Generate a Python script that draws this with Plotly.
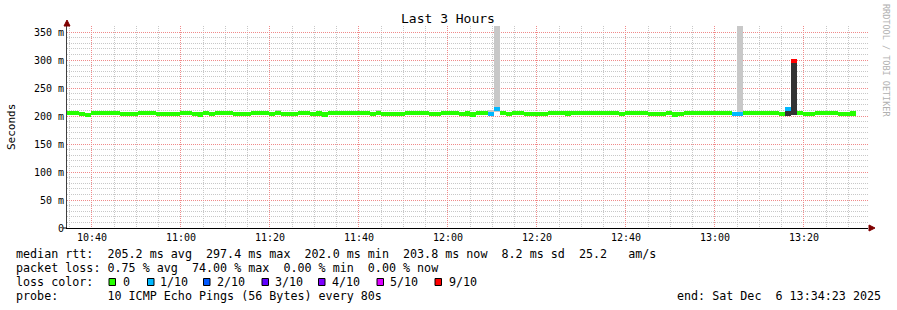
import plotly.graph_objects as go
from datetime import datetime, timedelta

# ---------------- data ----------------
end_time = datetime(2025, 12, 6, 13, 34, 23)
start_time = end_time - timedelta(hours=3)
step_seconds = 80

# median rtt per 80 s step (ms); None = no data yet
median_ms = [
    205.8, 205.7, 203.0, 202.4, 205.9, 205.8, 205.7, 205.9, 205.8,
    203.1, 202.8, 202.9, 205.7, 205.9, 205.8, 203.0, 202.8, 204.4,
    204.3, 205.7, 205.9, 202.9, 202.7, 205.8, 203.0, 205.7, 205.9,
    205.8, 203.1, 202.8, 204.4, 205.8, 205.9, 205.7, 202.9, 206.0,
    203.0, 202.9, 202.8, 205.8, 205.7, 204.3, 204.5, 202.7, 205.7,
    205.9, 205.8, 206.0, 205.7, 205.8, 205.9, 202.9, 205.9, 204.4,
    203.0, 204.3, 202.8, 205.7, 205.9, 205.8, 205.7, 204.4, 202.8,
    205.8, 205.9, 205.7, 204.3, 204.5, 202.7, 205.8, 205.7, 203.1,
    212.4, 205.8, 202.9, 205.9, 205.7, 204.4, 202.8, 204.3, 202.9,
    205.8, 205.9, 205.7, 204.5, 205.8, 205.7, 205.9, 205.8, 205.7,
    205.9, 205.8, 205.7, 202.8, 205.8, 205.9, 205.7, 205.8, 203.0,
    202.9, 202.8, 205.7, 202.7, 204.4, 205.8, 205.7, 205.9, 205.8,
    205.7, 205.9, 205.8, 205.7, 204.3, 204.4, 205.8, 205.9, 205.7,
    205.8, 205.9, 205.7, 202.8, 213.3, 297.4, 205.8, 202.9, 204.4,
    205.7, 205.9, 205.8, 205.7, 204.3, 202.8, 204.5, None, None,
]

# steps with packet loss (tenths of pings lost)
loss_steps = [71, 72, 112, 113, 121, 122]
loss_tenths = [1, 1, 1, 1, 1, 9]

# visible smoke (ping spread) per step
smoke_steps = [35, 41, 52, 71, 72, 113, 121, 122]
smoke_lo = [205.0, 203.0, 205.0, 203.0, 208.0, 206.0, 199.5, 201.0]
smoke_hi = [211.5, 208.0, 211.0, 210.0, 400.0, 400.0, 210.0, 295.5]
smoke_dark = [False, False, False, False, False, False, True, True]

loss_levels = ["0", "1/10", "2/10", "3/10", "4/10", "5/10", "9/10"]
loss_colors = ["#26ff00", "#00b8ff", "#0059ff", "#5e00ff", "#7e00ff", "#dd00ff", "#ff0000"]
loss_color_by_tenth = {0: "#26ff00", 1: "#00b8ff", 2: "#0059ff", 3: "#5e00ff",
                       4: "#7e00ff", 5: "#dd00ff", 9: "#ff0000"}

y_tick_vals = [0, 50, 100, 150, 200, 250, 300, 350]
y_tick_text = ["0", "50 m", "100 m", "150 m", "200 m", "250 m", "300 m", "350 m"]

stats_rtt = "median rtt:  205.2 ms avg  297.4 ms max  202.0 ms min  203.8 ms now  8.2 ms sd  25.2   am/s"
stats_loss = "packet loss: 0.75 % avg  74.00 % max  0.00 % min  0.00 % now"
probe_text = "probe:       10 ICMP Echo Pings (56 Bytes) every 80s"
end_text = "end: Sat Dec  6 13:34:23 2025"

# ---------------- build ----------------
FONT = "DejaVu Sans Mono"
band_half = 3.6  # ms, half thickness of the median band

W, H = 897, 310
L, R, T, B = 67, 29, 26, 82
PW, PH = W - L - R, H - T - B
y_top = PH / 0.56

def step_center(i):
    return start_time + timedelta(seconds=step_seconds * (i + 0.5))

loss_map = dict(zip(loss_steps, loss_tenths))

mx, mbase, mh, mcol = [], [], [], []
for i, v in enumerate(median_ms):
    if v is None:
        continue
    mx.append(step_center(i))
    mbase.append(v - band_half)
    mh.append(2 * band_half)
    mcol.append(loss_color_by_tenth[loss_map.get(i, 0)])

sx = [step_center(i) for i in smoke_steps]
sbase = smoke_lo
sh = [h - l for l, h in zip(smoke_lo, smoke_hi)]
scol = ["#333333" if d else "#c8c8c8" for d in smoke_dark]

major_grid = "#f08a8a"
minor_grid = "#c8c8c8"

# x tick positions every 5 minutes, labelled every 20 minutes
tick0_x = datetime(2025, 12, 6, 10, 40)
x_tick_vals, x_tick_text = [], []
t = tick0_x - timedelta(minutes=5)
while t <= end_time:
    x_tick_vals.append(t)
    x_tick_text.append(t.strftime("%H:%M") if t.minute % 20 == 0 else "")
    t += timedelta(minutes=5)

fig = go.Figure()
fig.add_trace(go.Bar(x=sx, y=sh, base=sbase, width=step_seconds * 1000,
                     marker=dict(color=scol, line=dict(width=0)), showlegend=False))
fig.add_trace(go.Bar(x=mx, y=mh, base=mbase, width=step_seconds * 1000,
                     marker=dict(color=mcol, line=dict(width=0)), showlegend=False))
# empty trace that only carries the overlay axes used for the red major grid
fig.add_trace(go.Scatter(x=[start_time, end_time], y=[None, None], xaxis="x2", yaxis="y2",
                         mode="lines", hoverinfo="skip", showlegend=False))

def pxx(x):
    return (x - L) / PW

def pxy(y):
    return (H - B - y) / PH

annotations = []

def text(x, y, s, size=11.7, color="#000000", xanchor="left", angle=0):
    annotations.append(dict(
        x=pxx(x), y=pxy(y), xref="paper", yref="paper", text=s.replace(" ", "\u00a0"),
        showarrow=False, xanchor=xanchor, yanchor="middle", textangle=angle,
        font=dict(family=FONT, size=size, color=color), borderpad=0, borderwidth=0))

text(448, 19, "Last 3 Hours", size=13, xanchor="center")
text(11, 127, "Seconds", size=11, xanchor="center", angle=-90)
text(886, 60, "RRDTOOL / TOBI OETIKER", size=8.5, color="#b0b0b0", xanchor="center", angle=90)
text(16, 254, stats_rtt)
text(16, 268, stats_loss)
text(16, 282, "loss color:")
text(16, 296, probe_text)
text(881, 296, end_text, xanchor="right")

shapes = []
box_lefts = [109, 147.5, 203.5, 262, 318.5, 377, 435]
label_lefts = [122.5, 160, 217, 275, 332, 390, 449]
for bl, ll, lab, col in zip(box_lefts, label_lefts, loss_levels, loss_colors):
    shapes.append(dict(type="rect", xref="paper", yref="paper",
                       x0=pxx(bl), x1=pxx(bl + 6.5), y0=pxy(285.5), y1=pxy(278.5),
                       fillcolor=col, line=dict(color="#000000", width=1)))
    text(ll, 282, lab)

# axis arrows (dark red)
shapes.append(dict(type="path", xref="paper", yref="paper",
                   path=f"M {pxx(64)},{pxy(26)} L {pxx(70)},{pxy(26)} L {pxx(67)},{pxy(20)} Z",
                   fillcolor="#7f0000", line=dict(color="#7f0000", width=1)))
shapes.append(dict(type="path", xref="paper", yref="paper",
                   path=f"M {pxx(869)},{pxy(225)} L {pxx(869)},{pxy(231)} L {pxx(875)},{pxy(228)} Z",
                   fillcolor="#7f0000", line=dict(color="#7f0000", width=1)))
shapes.append(dict(type="line", xref="paper", yref="paper",
                   x0=pxx(63), x1=pxx(67), y0=0, y1=0, line=dict(color="#000000", width=1)))

fig.update_layout(
    width=W, height=H, margin=dict(l=L, r=R, t=T, b=B),
    paper_bgcolor="#ffffff", plot_bgcolor="#ffffff",
    barmode="overlay", bargap=0, showlegend=False,
    font=dict(family=FONT, size=10, color="#000000"),
    annotations=annotations, shapes=shapes,
    xaxis=dict(
        type="date", range=[start_time, end_time],
        tickmode="array", tickvals=x_tick_vals, ticktext=x_tick_text,
        tickfont=dict(family=FONT, size=10, color="#000000"),
        showgrid=True, gridcolor=minor_grid, griddash="1px,1px", gridwidth=1,
        showline=True, linecolor="#000000", linewidth=1, ticks="", zeroline=False,
        fixedrange=True,
    ),
    yaxis=dict(
        range=[0, y_top], tickmode="array", tickvals=y_tick_vals, ticktext=y_tick_text,
        tickfont=dict(family=FONT, size=10, color="#000000"),
        showgrid=True, gridcolor=minor_grid, griddash="1px,1px", gridwidth=1,
        minor=dict(tickmode="linear", tick0=0, dtick=10,
                   showgrid=True, gridcolor=minor_grid, griddash="1px,1px", gridwidth=1),
        showline=True, linecolor="#404040", linewidth=1, ticks="",
        zeroline=False, fixedrange=True,
    ),
    # overlay axes: only the red major grid
    xaxis2=dict(
        type="date", range=[start_time, end_time], overlaying="x", anchor="y2", side="bottom",
        tickmode="linear", tick0=tick0_x, dtick=20 * 60 * 1000, showticklabels=False,
        showgrid=True, gridcolor=major_grid, griddash="1px,1px", gridwidth=1,
        showline=False, ticks="", zeroline=False, fixedrange=True,
    ),
    yaxis2=dict(
        range=[0, y_top], overlaying="y", anchor="x2", side="left",
        tickmode="array", tickvals=y_tick_vals[1:], showticklabels=False,
        showgrid=True, gridcolor=major_grid, griddash="1px,1px", gridwidth=1,
        showline=False, ticks="", zeroline=False, fixedrange=True,
    ),
)

fig.write_html("out.html")
